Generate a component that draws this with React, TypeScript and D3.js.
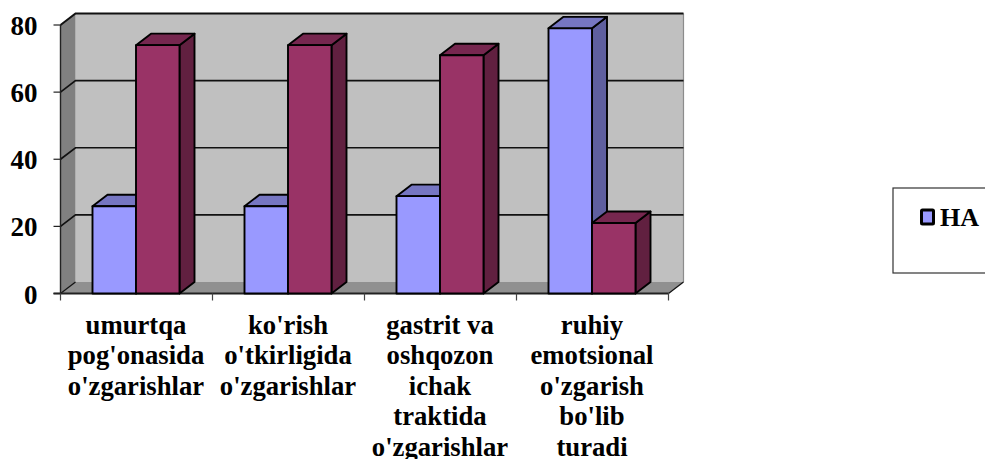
import React from "react";
import { range, scaleBand, scaleLinear } from "d3";

const categories = [
  ["umurtqa", "pog'onasida", "o'zgarishlar"],
  ["ko'rish", "o'tkirligida", "o'zgarishlar"],
  ["gastrit va", "oshqozon", "ichak", "traktida", "o'zgarishlar"],
  ["ruhiy", "emotsional", "o'zgarish", "bo'lib", "turadi"],
];
const seriesNames = ["HA", "YO'Q"];
const haValues = [26, 26, 29, 79];
const yoqValues = [74, 74, 71, 21];
const yTicks = [0, 20, 40, 60, 80];
const legendItems = ["HA"];

const WIDTH = 985;
const HEIGHT = 459;
const FONT = "'Liberation Serif', serif";

// oblique offset of the 3d box
const DX = 15;
const DY = -11.5;

const colors = [
  { front: "#9999ff", top: "#7676c2", side: "#5f5f9f" },
  { front: "#993366", top: "#76274f", side: "#612040" },
];

const poly = (pts: number[][]) => pts.map((p) => p.join(",")).join(" ");

function Bar({ x, w, y, y0, color }: any) {
  return (
    <g stroke="#000" strokeWidth={1.9} strokeLinejoin="round">
      <polygon
        fill={color.side}
        points={poly([[x + w, y], [x + w + DX, y + DY], [x + w + DX, y0 + DY], [x + w, y0]])}
      />
      <polygon
        fill={color.top}
        points={poly([[x, y], [x + DX, y + DY], [x + w + DX, y + DY], [x + w, y]])}
      />
      <rect x={x} y={y} width={w} height={y0 - y} fill={color.front} />
    </g>
  );
}

export default function App() {
  const left = 60.5;
  const right = 668.5;
  const x0 = scaleBand<number>().domain(range(categories.length)).range([left, right]);
  const x1 = scaleBand<string>().domain(seriesNames).range([32, 119]);
  const y = scaleLinear().domain([0, 80]).range([293.5, 25]);
  const base = y(0);
  const top = y(80);

  return (
    <svg
      width={WIDTH}
      height={HEIGHT}
      style={{ position: "absolute", left: 0, top: 0, background: "#fff" }}
      fontFamily={FONT}
      fontWeight="bold"
    >
      {/* back wall, side wall, floor */}
      <polygon
        fill="#c0c0c0"
        points={poly([[left + DX, top + DY], [right + DX, top + DY], [right + DX, base + DY], [left + DX, base + DY]])}
      />
      <polygon
        fill="#808080"
        points={poly([[left, top], [left + DX, top + DY], [left + DX, base + DY], [left, base]])}
      />
      <polygon
        fill="#909090"
        points={poly([[left, base], [left + DX, base + DY], [right + DX, base + DY], [right, base]])}
      />
      <line x1={right + DX} x2={right + DX} y1={top + DY} y2={base + DY} stroke="#8c8c8c" strokeWidth={1.2} />
      <line x1={right} x2={right + DX} y1={base} y2={base + DY} stroke="#111" strokeWidth={1.2} />

      {/* gridlines, running round the side wall */}
      {yTicks.slice(1).map((t) => (
        <polyline
          key={t}
          fill="none"
          stroke="#111"
          strokeWidth={t === 80 ? 2 : 1.7}
          points={poly([[left, y(t)], [left + DX, y(t) + DY], [right + DX, y(t) + DY]])}
        />
      ))}
      <line x1={left} x2={left + DX} y1={base} y2={base + DY} stroke="#111" strokeWidth={1.2} />

      {/* y axis */}
      <line x1={left} x2={left} y1={top} y2={base} stroke="#222" strokeWidth={1.4} />
      {yTicks.map((t) => (
        <g key={t}>
          <line x1={left - 7} x2={left} y1={y(t)} y2={y(t)} stroke="#222" strokeWidth={1.2} />
          <text x={37.5} y={y(t) + 10} textAnchor="end" fontSize={27} fill="#000">
            {t}
          </text>
        </g>
      ))}

      {/* x axis */}
      <line x1={left - 7} x2={right} y1={base} y2={base} stroke="#222" strokeWidth={1.8} />
      {range(categories.length + 1).map((i) => {
        const tx = i < categories.length ? x0(i)! : right;
        return <line key={i} x1={tx} x2={tx} y1={base} y2={base + 7} stroke="#444" strokeWidth={1.2} />;
      })}

      {/* bars, back to front from the left */}
      {categories.map((_, i) => (
        <g key={i}>
          {[haValues[i], yoqValues[i]].map((v, s) => (
            <Bar
              key={s}
              x={x0(i)! + x1(seriesNames[s])!}
              w={x1.bandwidth()}
              y={y(v)}
              y0={base}
              color={colors[s]}
            />
          ))}
        </g>
      ))}

      {/* category labels */}
      {categories.map((lines, i) => (
        <text
          key={i}
          x={x0(i)! + x0.bandwidth() / 2 - 0.5}
          textAnchor="middle"
          fontSize={26.7}
          fill="#000"
        >
          {lines.map((l, j) => (
            <tspan key={j} x={x0(i)! + x0.bandwidth() / 2 - 0.5} y={333.5 + j * 30.5}>
              {l}
            </tspan>
          ))}
        </text>
      ))}

      {/* legend */}
      <rect x={893} y={188} width={110} height={85} fill="#fff" stroke="#333" strokeWidth={1.2} />
      {legendItems.map((name, i) => (
        <g key={name}>
          <rect x={921.5} y={210} width={12} height={14} fill={colors[i].front} stroke="#000" strokeWidth={3} rx={1} />
          <text x={940} y={226} fontSize={26} fill="#000">
            {name}
          </text>
        </g>
      ))}
    </svg>
  );
}
